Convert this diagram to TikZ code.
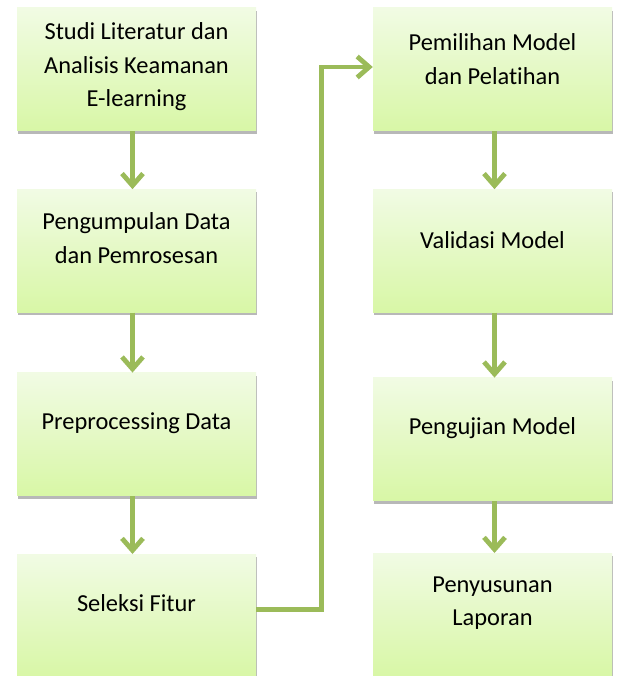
\documentclass[tikz,border=0pt]{standalone}
\usepackage{fontspec}
\setmainfont{Carlito}[Ligatures=NoCommon]
\usetikzlibrary{positioning,arrows.meta,shadows}
\definecolor{olive}{HTML}{9BBB59}
\definecolor{boxtop}{HTML}{F1FBE4}
\definecolor{boxbottom}{HTML}{D8F7A6}
\tikzset{
% Stage boxes of the research flow
stage/.style={rectangle,minimum width=239pt,minimum height=123pt,inner sep=0,
  top color=boxtop,bottom color=boxbottom,
  drop shadow={shadow xshift=1pt,shadow yshift=-3pt,fill=black,opacity=.28}},
stagetext/.style={align=center,inner sep=0,font=\fontsize{24.4}{33.5}\selectfont},
flow/.style={draw=olive,line width=4.8pt,-{Straight Barb[length=12pt,width=21pt]}}
}

\begin{document}
\begin{tikzpicture}[x=1pt,y=1pt,node distance=58pt]
      \useasboundingbox (0,0) rectangle (616,-676);
      % Left column
      \node[stage] (lit) at (136.5,-69.5) {};
      \node[stage,below=of lit] (kumpul) {};
      \node[stage,below=60pt of kumpul] (prep) {};
      \node[stage,below=of prep] (sel) {};
      % Right column
      \node[stage] (pem) at (492.5,-69.5) {};
      \node[stage,below=of pem] (val) {};
      \node[stage,below=65pt of val] (uji) {};
      \node[stage,below=52pt of uji] (lap) {};
      % Texts of the stages
      \node[stagetext] (litT) at ([yshift=2.5pt]lit.center) {Studi Literatur dan\\Analisis Keamanan\\E-learning};
      \node[stagetext] (kumpulT) at ([yshift=13pt]kumpul.center) {Pengumpulan Data\\dan Pemrosesan};
      \node[stagetext] (prepT) at ([yshift=11pt]prep.center) {Preprocessing Data};
      \node[stagetext] (selT) at ([yshift=12.5pt]sel.center) {Seleksi Fitur};
      \node[stagetext] (pemT) at ([yshift=10.5pt]pem.center) {Pemilihan Model\\dan Pelatihan};
      \node[stagetext] (valT) at ([yshift=11pt]val.center) {Validasi Model};
      \node[stagetext] (ujiT) at ([yshift=11.5pt]uji.center) {Pengujian Model};
      \node[stagetext] (lapT) at ([yshift=11.5pt]lap.center) {Penyusunan\\Laporan};
      % Connectors
      \draw[flow] ([xshift=-4pt]lit.south) -- ([xshift=-4pt]kumpul.north);
      \draw[flow] ([xshift=-4pt]kumpul.south) -- ([xshift=-4pt]prep.north);
      \draw[flow] ([xshift=-4pt]prep.south) -- ([xshift=-4pt]sel.north);
      \draw[flow] ([yshift=6pt]sel.east) -- ++(65,0) |- ([yshift=2.5pt]pem.west);
      \draw[flow] ([xshift=2pt]pem.south) -- ([xshift=2pt]val.north);
      \draw[flow] ([xshift=2pt]val.south) -- ([xshift=2pt]uji.north);
      \draw[flow] ([xshift=2pt]uji.south) -- ([xshift=2pt]lap.north);
    \end{tikzpicture}
\end{document}
